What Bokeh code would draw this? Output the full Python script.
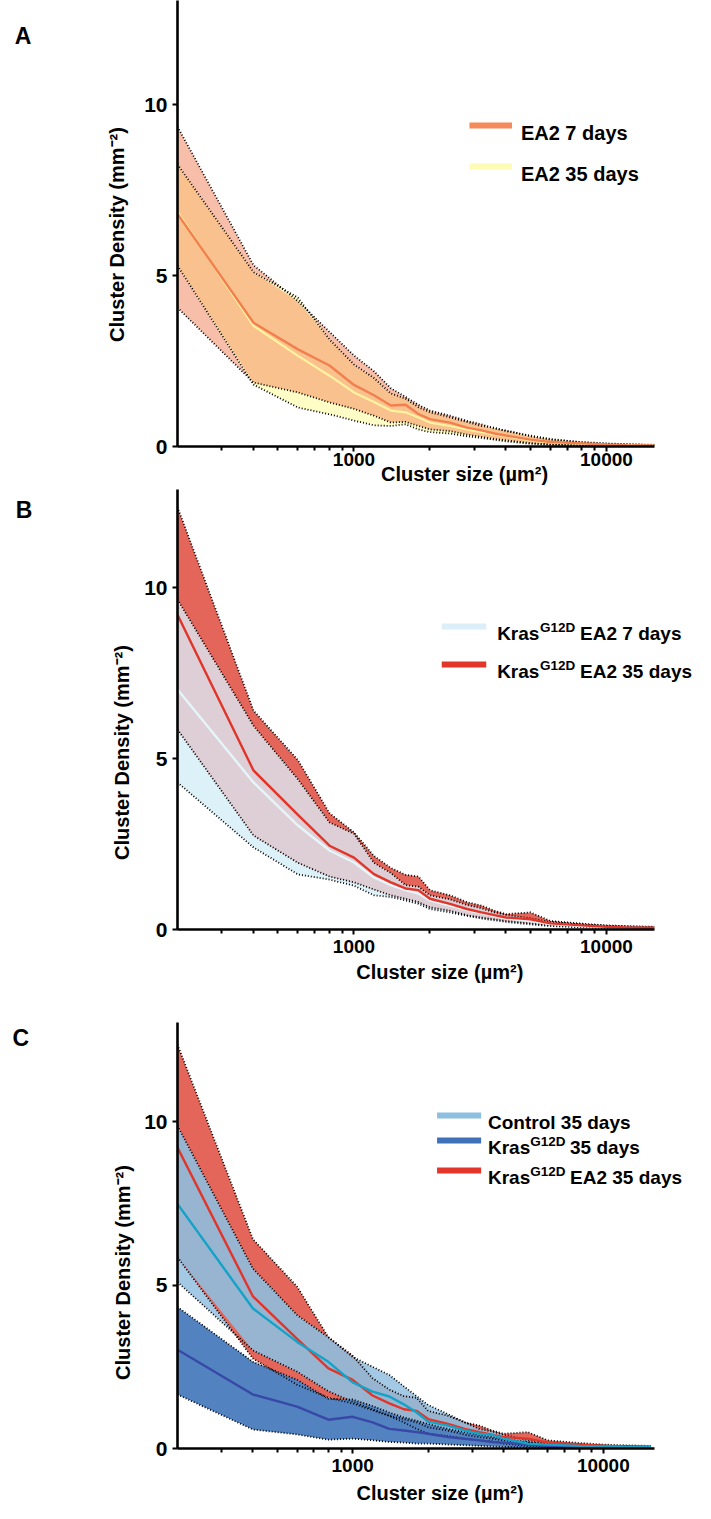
from math import pi
import numpy as np
from bokeh.plotting import figure
from bokeh.layouts import column
from bokeh.models import FixedTicker, Range1d, NumeralTickFormatter, LinearScale
from bokeh.core.properties import value
from bokeh.embed import file_html
from bokeh.resources import INLINE

# ---------------- data ----------------
cluster_size = [200, 400, 600, 800, 1000, 1200, 1400, 1600, 1800, 2000, 2400,
                2800, 3200, 3600, 4000, 5000, 6000, 8000, 10000, 12000, 15500]

# Panel A
ea2_7d_mean = [6.80, 3.62, 2.84, 2.37, 1.80, 1.50, 1.20, 1.22, 0.95, 0.80, 0.70, 0.55, 0.47, 0.38, 0.32, 0.20, 0.13, 0.09, 0.06, 0.04, 0.03]
ea2_7d_hi   = [9.35, 5.30, 4.25, 3.35, 2.66, 2.20, 1.70, 1.45, 1.22, 1.05, 0.90, 0.75, 0.65, 0.52, 0.47, 0.30, 0.20, 0.13, 0.09, 0.07, 0.05]
ea2_7d_lo   = [4.06, 1.87, 1.58, 1.29, 1.10, 0.90, 0.70, 0.72, 0.60, 0.50, 0.45, 0.35, 0.28, 0.22, 0.18, 0.10, 0.06, 0.04, 0.03, 0.02, 0.01]
ea2_35d_mean = [6.85, 3.53, 2.65, 2.07, 1.58, 1.30, 1.05, 1.00, 0.85, 0.70, 0.60, 0.50, 0.42, 0.35, 0.30, 0.18, 0.12, 0.08, 0.05, 0.04, 0.02]
ea2_35d_hi   = [8.25, 5.10, 4.35, 3.13, 2.40, 2.00, 1.55, 1.40, 1.15, 1.00, 0.85, 0.72, 0.60, 0.55, 0.45, 0.32, 0.22, 0.12, 0.08, 0.06, 0.04]
ea2_35d_lo   = [5.29, 1.81, 1.14, 0.94, 0.76, 0.62, 0.60, 0.65, 0.50, 0.42, 0.38, 0.30, 0.25, 0.20, 0.15, 0.08, 0.05, 0.03, 0.02, 0.01, 0.01]

# Panel B (KrasG12D EA2 35 days is also used in panel C)
kea2_7d_mean = [7.02, 4.30, 3.04, 2.31, 1.96, 1.52, 1.30, 1.15, 1.05, 0.85, 0.70, 0.57, 0.48, 0.40, 0.33, 0.25, 0.16, 0.10, 0.07, 0.05, 0.04]
kea2_7d_hi   = [9.65, 5.96, 4.39, 3.13, 2.80, 1.95, 1.65, 1.30, 1.25, 1.00, 0.88, 0.72, 0.62, 0.50, 0.42, 0.33, 0.22, 0.15, 0.11, 0.09, 0.07]
kea2_7d_lo   = [4.30, 2.40, 1.61, 1.46, 1.28, 1.00, 0.95, 0.85, 0.75, 0.60, 0.50, 0.40, 0.32, 0.27, 0.22, 0.15, 0.10, 0.06, 0.04, 0.03, 0.02]
kea2_35d_mean = [9.20, 4.65, 3.35, 2.45, 2.10, 1.62, 1.38, 1.20, 1.15, 0.90, 0.75, 0.60, 0.50, 0.42, 0.35, 0.30, 0.18, 0.12, 0.08, 0.06, 0.05]
kea2_35d_hi   = [12.35, 6.40, 4.95, 3.40, 2.84, 2.15, 1.80, 1.60, 1.55, 1.15, 1.00, 0.80, 0.70, 0.55, 0.45, 0.50, 0.25, 0.17, 0.12, 0.10, 0.08]
kea2_35d_lo   = [5.85, 2.75, 1.95, 1.55, 1.38, 1.17, 1.00, 0.90, 0.80, 0.65, 0.55, 0.42, 0.35, 0.30, 0.25, 0.18, 0.12, 0.08, 0.05, 0.03, 0.02]

# Panel C
ctrl_mean = [7.48, 4.28, 3.26, 2.65, 2.02, 1.74, 1.59, 1.35, 1.10, 0.82, 0.70, 0.55, 0.45, 0.42, 0.30, 0.15, 0.12, 0.08, 0.06, 0.05, 0.04]
ctrl_hi   = [9.87, 5.50, 4.08, 3.40, 2.80, 2.50, 2.25, 1.90, 1.60, 1.33, 1.05, 0.80, 0.60, 0.52, 0.42, 0.25, 0.18, 0.12, 0.09, 0.07, 0.06]
ctrl_lo   = [5.09, 3.00, 2.35, 1.75, 1.43, 1.20, 1.00, 0.80, 0.60, 0.45, 0.38, 0.30, 0.25, 0.22, 0.15, 0.08, 0.06, 0.04, 0.03, 0.02, 0.02]
kras_mean = [3.02, 1.65, 1.28, 0.88, 0.97, 0.80, 0.60, 0.55, 0.50, 0.45, 0.35, 0.30, 0.25, 0.20, 0.18, 0.12, 0.08, 0.05, 0.04, 0.03, 0.02]
kras_hi   = [4.33, 2.65, 2.10, 1.52, 1.50, 1.30, 1.10, 0.95, 0.85, 0.75, 0.60, 0.50, 0.42, 0.35, 0.30, 0.20, 0.14, 0.09, 0.07, 0.05, 0.04]
kras_lo   = [1.65, 0.58, 0.43, 0.27, 0.30, 0.25, 0.20, 0.18, 0.15, 0.15, 0.12, 0.10, 0.08, 0.06, 0.05, 0.03, 0.02, 0.01, 0.01, 0.00, 0.00]

x_major = [1000, 10000]
x_minor = [300, 400, 500, 600, 700, 800, 900, 2000, 3000, 4000, 5000, 6000, 7000, 8000, 9000]
y_major = [0, 5, 10]

FONT = "Liberation Sans"
W = {' ': 278, 'A': 722, 'C': 722, 'D': 722, 'E': 667, 'G': 778, 'K': 722,
     'a': 556, 'd': 611, 'l': 278, 'n': 611, 'o': 611, 'r': 389, 's': 556,
     't': 333, 'y': 556}


def tw(s, size):
    return sum(W.get(c, 556) for c in s) * size / 1000.0


def make_fig(h, page_top, fl, fr, ft, fb, yend, xend, standoff):
    p = figure(width=695, height=h, x_axis_type="log",
               x_range=Range1d(200, xend), y_range=Range1d(0, yend),
               extra_x_ranges={"px": Range1d(fl, fr)},
               extra_y_ranges={"py": Range1d(fb, ft)},
               extra_x_scales={"px": LinearScale()},
               extra_y_scales={"py": LinearScale()},
               output_backend="svg", toolbar_location=None,
               min_border_left=fl - 8, min_border_right=703 - fr,
               min_border_top=ft - page_top, min_border_bottom=page_top + h - fb)
    p.outline_line_color = None
    p.xgrid.visible = False
    p.ygrid.visible = False
    p.background_fill_color = "white"
    p.border_fill_color = "white"
    for ax in (p.xaxis[0], p.yaxis[0]):
        ax.axis_line_width = 2.6
        ax.axis_line_color = "black"
        ax.major_tick_line_width = 2
        ax.minor_tick_line_width = 2
        ax.major_tick_in = 0
        ax.minor_tick_in = 0
        ax.major_tick_out = 5
        ax.minor_tick_out = 4
        ax.major_label_text_font = FONT
        ax.major_label_text_font_style = "bold"
        ax.major_label_text_color = "black"
    p.xaxis.major_label_text_font_size = "19px"
    p.yaxis.major_label_text_font_size = "21px"
    p.xaxis.ticker = FixedTicker(ticks=x_major, minor_ticks=x_minor)
    p.xaxis.formatter = NumeralTickFormatter(format="0")
    p.xaxis.major_label_standoff = standoff
    p.yaxis.ticker = FixedTicker(ticks=y_major, minor_ticks=[])
    p.yaxis.major_label_standoff = 5
    return p


def txt(p, px, py, text, size, align="left", baseline="alphabetic", angle=0.0):
    p.text(x=[px], y=[py], text=[text], x_range_name="px", y_range_name="py",
           text_font=value(FONT), text_font_style=value("bold"),
           text_font_size=value(f"{size}px"), text_color="black",
           text_align=value(align), text_baseline=value(baseline),
           angle=angle, level="overlay")


def legend(p, x0, x1, xt, rows, size=19, sup=13.5):
    for (yc, color, parts) in rows:
        p.line([x0, x1], [yc, yc], x_range_name="px", y_range_name="py",
               line_color=color, line_width=6, level="overlay")
        xx = xt
        base = yc + 7
        for (t, is_sup) in parts:
            if is_sup:
                txt(p, xx + 1, base - 6, t, sup)
                xx += tw(t, sup) + 1 + tw(" ", size)
            else:
                txt(p, xx, base, t, size)
                xx += tw(t, size)


def band(p, lo, hi, color):
    p.varea(x=cluster_size, y1=lo, y2=hi, fill_color=color, fill_alpha=1.0)


def overlap(p, lo1, hi1, lo2, hi2, color):
    lo = np.maximum(lo1, lo2)
    hi = np.maximum(np.minimum(hi1, hi2), lo)
    p.varea(x=cluster_size, y1=lo, y2=hi, fill_color=color, fill_alpha=1.0)


def edges(p, *arrs):
    for a in arrs:
        p.line(cluster_size, a, line_color="black", line_dash="1 2", line_width=1.8)


def mean(p, a, color, w=2.4):
    p.line(cluster_size, a, line_color=color, line_width=w)


YLAB = "Cluster Density (mm\u207b\u00b2)"
XLAB = "Cluster size (\u00b5m\u00b2)"

# ---------------- Panel A ----------------
pa = make_fig(489, 8, 180, 662, 8, 454, 446 / 34.2, 15500, 1)
band(pa, ea2_7d_lo, ea2_7d_hi, "#F7BEA9")
band(pa, ea2_35d_lo, ea2_35d_hi, "#FEFDC6")
overlap(pa, ea2_7d_lo, ea2_7d_hi, ea2_35d_lo, ea2_35d_hi, "#F9C18D")
edges(pa, ea2_7d_lo, ea2_7d_hi, ea2_35d_lo, ea2_35d_hi)
mean(pa, ea2_35d_mean, "#FFF3A0", 2.2)
mean(pa, ea2_7d_mean, "#F2804F", 2.4)
txt(pa, 24, 43, "A", 23, align="center")
txt(pa, 119, 242, YLAB, 20, align="center", baseline="middle", angle=pi / 2)
txt(pa, 470, 481, XLAB, 20, align="center", baseline="middle")
legend(pa, 475, 518, 527, [(133, "#F58B5B", [("EA2 7 days", False)]),
                           (174, "#FDFBB6", [("EA2 35 days", False)])], size=20)

# ---------------- Panel B ----------------
pb = make_fig(503, 497, 180, 662, 497, 937, 440 / 34.2, 15500, 5)
band(pb, kea2_7d_lo, kea2_7d_hi, "#DDF1F9")
band(pb, kea2_35d_lo, kea2_35d_hi, "#E4665A")
overlap(pb, kea2_7d_lo, kea2_7d_hi, kea2_35d_lo, kea2_35d_hi, "#DDCFD5")
edges(pb, kea2_7d_lo, kea2_7d_hi, kea2_35d_lo, kea2_35d_hi)
mean(pb, kea2_7d_mean, "#E6F5F9", 2.4)
mean(pb, kea2_35d_mean, "#E2352A", 2.4)
txt(pb, 25, 517, "B", 23, align="center")
txt(pb, 124, 760, YLAB, 20, align="center", baseline="middle", angle=pi / 2)
txt(pb, 445, 979, XLAB, 20, align="center", baseline="middle")
legend(pb, 447, 492, 503, [
    (634, "#DCEFF8", [("Kras", False), ("G12D", True), ("EA2 7 days", False)]),
    (672, "#E2362A", [("Kras", False), ("G12D", True), ("EA2 35 days", False)])])

# ---------------- Panel C ----------------
pc = make_fig(511, 1000, 185, 672, 1030, 1456, 426 / 32.7, 16000, 5)
band(pc, ctrl_lo, ctrl_hi, "#A3C9E5")
band(pc, kea2_35d_lo, kea2_35d_hi, "#E4665A")
overlap(pc, ctrl_lo, ctrl_hi, kea2_35d_lo, kea2_35d_hi, "#97B4D1")
band(pc, kras_lo, kras_hi, "#5282BF")
edges(pc, ctrl_lo, ctrl_hi, kea2_35d_lo, kea2_35d_hi, kras_lo, kras_hi)
mean(pc, kras_mean, "#3748A6", 2.4)
mean(pc, kea2_35d_mean, "#E2352A", 2.4)
mean(pc, ctrl_mean, "#14A3C7", 2.4)
txt(pc, 25, 1045, "C", 23, align="center")
txt(pc, 129, 1280, YLAB, 20, align="center", baseline="middle", angle=pi / 2)
txt(pc, 453, 1500, XLAB, 20, align="center", baseline="middle")
legend(pc, 450, 495, 502, [
    (1123, "#8DBFE2", [("Control 35 days", False)]),
    (1148, "#3F71B8", [("Kras", False), ("G12D", True), ("35 days", False)]),
    (1178, "#E2362A", [("Kras", False), ("G12D", True), ("EA2 35 days", False)])])

layout = column(pa, pb, pc, spacing=0)
open("out.html", "w").write(file_html(layout, INLINE))
